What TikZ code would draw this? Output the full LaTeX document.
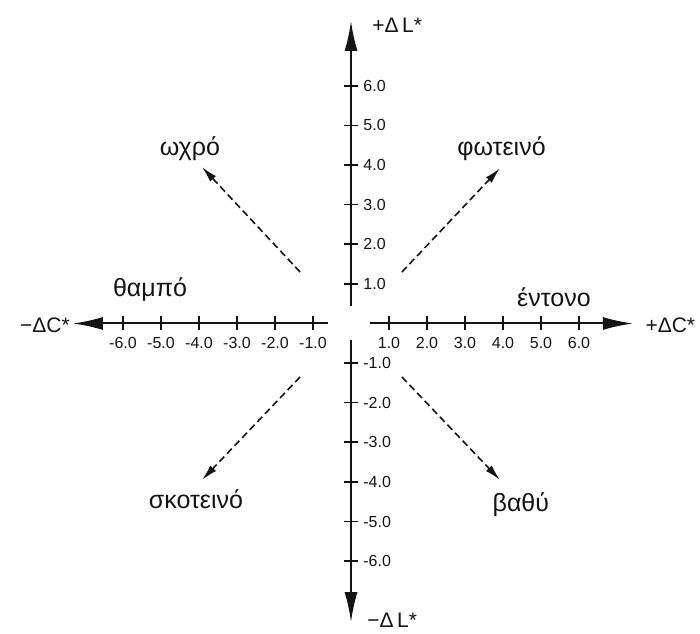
\documentclass[tikz,border=0pt]{standalone}
\usepackage{fontspec}
\setmainfont{Liberation Sans}
\usetikzlibrary{arrows.meta}
\definecolor{DlcInk}{RGB}{20,20,20}
\tikzset{
  dlc/axis/.style={-{Latex[length=15pt,width=6.5pt]}, line width=1pt, draw=DlcInk},
  dlc/tick/.style={line width=0.8pt, draw=DlcInk},
  dlc/dir/.style={-{Latex[length=8pt,width=4pt]}, line width=0.8pt, dash pattern=on 3.5pt off 2pt, draw=DlcInk},
  dlc/xnum/.style={anchor=north, inner sep=0pt, yshift=-6.75pt, font=\fontsize{8}{9}\selectfont, text=DlcInk},
  dlc/ynum/.style={anchor=west, inner sep=0pt, xshift=6pt, font=\fontsize{8}{9}\selectfont, text=DlcInk},
  dlc/axislabel/.style={inner sep=0pt, font=\fontsize{10.5}{12}\selectfont, text=DlcInk},
  dlc/word/.style={anchor=base, inner sep=0pt, font=\fontsize{12.5}{15}\selectfont, text=DlcInk}
}

\begin{document}
\begin{tikzpicture}[x=19pt,y=19.8pt]
  \useasboundingbox (-9.237,-7.816) rectangle (9.184,8.169);
  \coordinate (cneg0) at (-0.6,0);
  \coordinate (cneg1) at (-7.32,0);
  \coordinate (cpos0) at (0.5,0);
  \coordinate (cpos1) at (7.42,0);
  \coordinate (lpos0) at (0,0.44);
  \coordinate (lpos1) at (0,7.64);
  \coordinate (lneg0) at (0,-0.42);
  \coordinate (lneg1) at (0,-7.54);
  \draw[dlc/axis] (cneg0) -- (cneg1);
  \draw[dlc/axis] (cpos0) -- (cpos1);
  \draw[dlc/axis] (lpos0) -- (lpos1);
  \draw[dlc/axis] (lneg0) -- (lneg1);
  \foreach \v in {1,...,6}{
    \draw[dlc/tick] (\v,0) ++(0,-3.5pt) -- ++(0,7pt);
    \draw[dlc/tick] (-\v,0) ++(0,-3.5pt) -- ++(0,7pt);
    \draw[dlc/tick] (0,\v) ++(-3.5pt,0) -- ++(7pt,0);
    \draw[dlc/tick] (0,-\v) ++(-3.5pt,0) -- ++(7pt,0);
    \node[dlc/xnum] (xp\v) at (\v,0) {\v.0};
    \node[dlc/xnum] (xn\v) at (-\v,0) {-\v.0};
    \node[dlc/ynum] (yp\v) at (0,\v) {\v.0};
    \node[dlc/ynum] (yn\v) at (0,-\v) {-\v.0};
  }
  \node[dlc/axislabel,anchor=base west] (lplus) at (0.55,7.34) {+Δ\,L*};
  \node[dlc/axislabel,anchor=base west] (lminus) at (0.42,-7.68) {−Δ\,L*};
  \node[dlc/axislabel,anchor=base east] (cminus) at (-7.39,-0.215) {−ΔC*};
  \node[dlc/axislabel,anchor=base west] (cplus) at (7.74,-0.24) {+ΔC*};
  \coordinate (pale0) at (-1.34,1.30);
  \coordinate (pale1) at (-3.92,3.95);
  \coordinate (light0) at (1.34,1.30);
  \coordinate (light1) at (3.92,3.92);
  \coordinate (dark0) at (-1.34,-1.35);
  \coordinate (dark1) at (-3.92,-3.95);
  \coordinate (deep0) at (1.34,-1.35);
  \coordinate (deep1) at (3.92,-3.95);
  \draw[dlc/dir] (pale0) -- (pale1);
  \draw[dlc/dir] (light0) -- (light1);
  \draw[dlc/dir] (dark0) -- (dark1);
  \draw[dlc/dir] (deep0) -- (deep1);
  \node[dlc/word] (pale) at (-4.24,4.23) {ωχρό};
  \node[dlc/word] (light) at (3.96,4.25) {φωτεινό};
  \node[dlc/word] (dark) at (-4.08,-4.66) {σκοτεινό};
  \node[dlc/word] (deep) at (4.47,-4.76) {βαθύ};
  \node[dlc/word] (dull) at (-5.29,0.69) {θαμπό};
  \node[dlc/word] (vivid) at (5.34,0.42) {έντονο};
\end{tikzpicture}
\end{document}
